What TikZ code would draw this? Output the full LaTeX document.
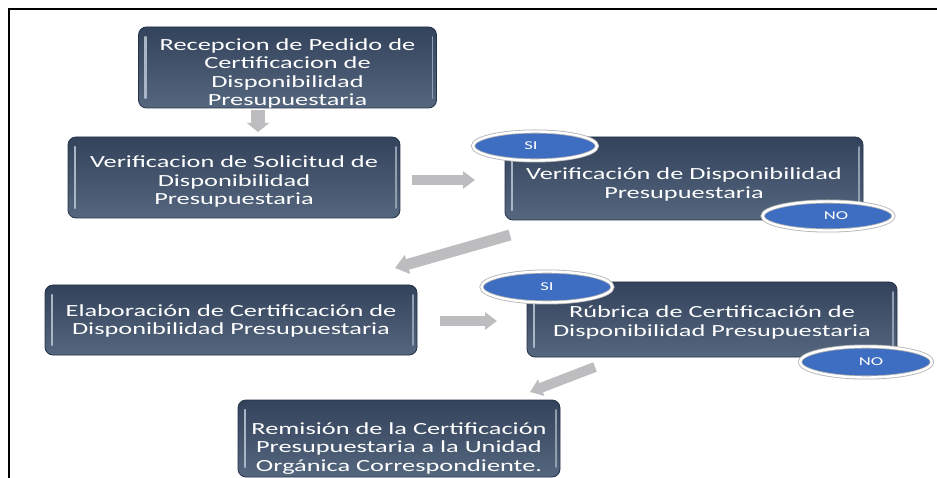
\documentclass[tikz,border=0pt]{standalone}
\usepackage{fontspec}
\setmainfont{Carlito}[FakeStretch=1.55]
\usetikzlibrary{arrows.meta,shapes.geometric}
\definecolor{boxtop}{HTML}{33435B}
\definecolor{boxmid}{HTML}{43546C}
\definecolor{boxbot}{HTML}{55677E}
\definecolor{boxedge}{HTML}{24324A}
\definecolor{stripe}{HTML}{A9B6C6}
\definecolor{ovalblue}{HTML}{3E6EC2}
\definecolor{arrowgray}{HTML}{BDBDC0}
\tikzset{
  stepbox/.style={rounded corners=8pt, top color=boxtop, bottom color=boxbot,
    middle color=boxmid, draw=boxedge, line width=0.8pt, inner sep=0pt,
    path picture={
      \draw[stripe, line width=2.2pt, line cap=round]
        ([xshift=7pt,yshift=-10pt]path picture bounding box.north west) --
        ([xshift=7pt,yshift=10pt]path picture bounding box.south west);
      \draw[stripe!70!boxbot, line width=1.8pt, line cap=round]
        ([xshift=-4pt,yshift=-10pt]path picture bounding box.north east) --
        ([xshift=-4pt,yshift=10pt]path picture bounding box.south east);
    }},
  boxtext/.style={text=white, align=center, inner sep=0pt,
    font=\fontsize{17}{18.3}\selectfont},
  oval/.style={ellipse, fill=ovalblue, draw=gray!60, double=white,
    double distance=2.4pt, line width=0.8pt, text=white, inner sep=0pt,
    font=\fontsize{12}{12}\selectfont},
  blockarrow/.style={draw=arrowgray, line width=#1},
  blockarrow/.default=10pt
}
\begin{document}
\begin{tikzpicture}[x=1pt,y=-1pt]
\useasboundingbox (0,0) rectangle (937,478);
\fill[white] (0,0) rectangle (937,478);
\draw[line width=2pt] (9,478) -- (9,9) -- (937,9);

% boxes
\node[stepbox, minimum width=298pt, minimum height=81pt] (b1) at (287.5,67.5) {};
\node[stepbox, minimum width=332pt, minimum height=81pt] (b2) at (234,177.5) {};
\node[stepbox, minimum width=358pt, minimum height=83pt] (b3) at (684,178.5) {};
\node[stepbox, minimum width=372pt, minimum height=70pt] (b4) at (231,320) {};
\node[stepbox, minimum width=370pt, minimum height=75pt] (b5) at (712,319.5) {};
\node[stepbox, minimum width=322pt, minimum height=77pt] (b6) at (399,438.5) {};

% texts
\node[boxtext] (t1) at ([yshift=-6pt]b1.center)
  {Recepcion de Pedido de\\Certificacion de\\Disponibilidad\\Presupuestaria};
\node[boxtext] (t2) at ([yshift=-4pt]b2.center)
  {Verificacion de Solicitud de\\Disponibilidad\\Presupuestaria};
\node[boxtext] (t3) at ([yshift=-6pt]b3.center)
  {Verificación de Disponibilidad\\Presupuestaria};
\node[boxtext] (t4) at ([yshift=-1pt]b4.center)
  {Elaboración de Certificación de\\Disponibilidad Presupuestaria};
\node[boxtext] (t5) at ([yshift=-3pt]b5.center)
  {Rúbrica de Certificación de\\Disponibilidad Presupuestaria};
\node[boxtext] (t6) at ([yshift=-10pt]b6.center)
  {Remisión de la Certificación\\Presupuestaria a la Unidad\\Orgánica Correspondiente.};

% ovals
\node[oval, minimum width=124pt, minimum height=29pt] (si1) at (535,146)
  {\hspace*{-8pt}SI};
\node[oval, minimum width=131pt, minimum height=29pt] (no1) at (828,216)
  {\hspace*{16pt}NO};
\node[oval, minimum width=131pt, minimum height=31pt] (si2) at (547,287)
  {SI};
\node[oval, minimum width=132pt, minimum height=31pt] (no2) at (866,362)
  {\hspace*{10pt}NO};

% arrow end points
\coordinate (a1s) at (258,110); \coordinate (a1e) at (258,132);
\coordinate (a2s) at (412,180); \coordinate (a2e) at (475,180);
\coordinate (a3s) at (510,235); \coordinate (a3e) at (395,268);
\coordinate (a4s) at (440,321); \coordinate (a4e) at (497,321);
\coordinate (a5s) at (595,367); \coordinate (a5e) at (530,392);

\draw[blockarrow=14pt, -{Triangle[length=9pt,width=22pt,fill=arrowgray]}] (a1s) -- (a1e);
\draw[blockarrow=10pt, -{Triangle[length=12pt,width=17pt,fill=arrowgray]}] (a2s) -- (a2e);
\draw[blockarrow=11pt, -{Triangle[length=13pt,width=19pt,fill=arrowgray]}] (a3s) -- (a3e);
\draw[blockarrow=10pt, -{Triangle[length=12pt,width=17pt,fill=arrowgray]}] (a4s) -- (a4e);
\draw[blockarrow=10pt, -{Triangle[length=12pt,width=17pt,fill=arrowgray]}] (a5s) -- (a5e);
\end{tikzpicture}
\end{document}
